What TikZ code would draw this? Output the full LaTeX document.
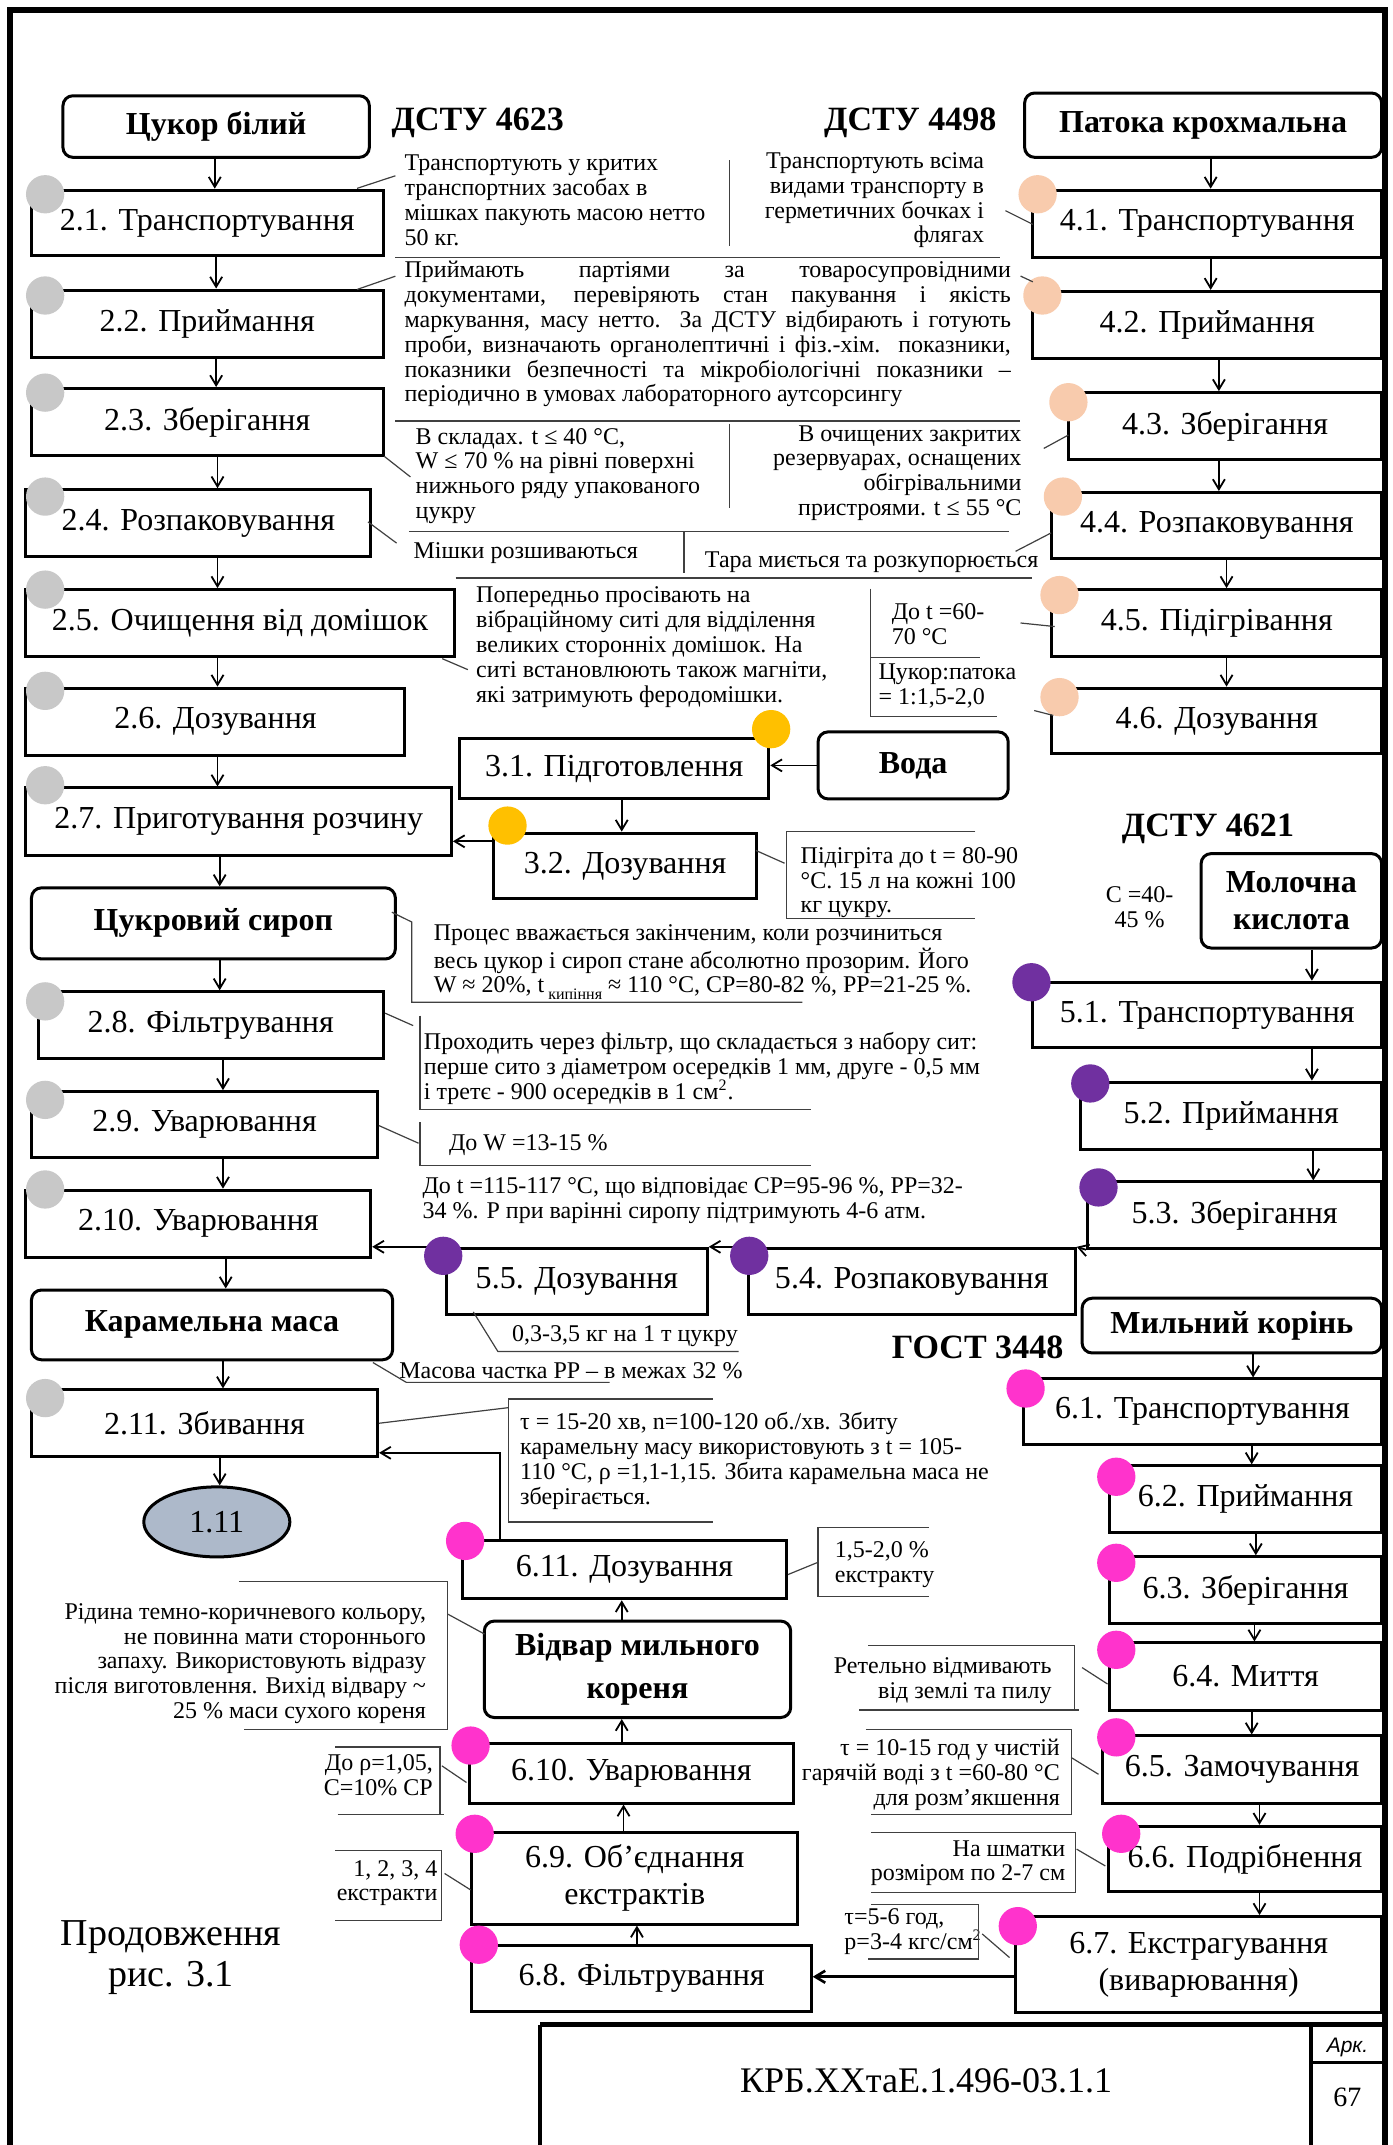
\documentclass[tikz,border=0pt]{standalone}
\usepackage{fontspec}
\setmainfont{Liberation Serif}
\newfontfamily\sansf{Liberation Sans}
\usetikzlibrary{arrows.meta,shapes.geometric}
\definecolor{cgray}{HTML}{C8C8C8}
\definecolor{cpeach}{HTML}{F8CBAD}
\definecolor{cyel}{HTML}{FFC000}
\definecolor{cpurp}{HTML}{7030A0}
\definecolor{cmag}{HTML}{FF33CC}
\definecolor{cell}{HTML}{ADB9CA}
\newcommand{\jl}[1]{\makebox[303pt][s]{#1}}
\newcommand{\dotc}[3]{\fill[#1] (#2,#3) circle[radius=14];}
\newcommand{\bxn}[7]{\node[#1,minimum width={(#5-#3)*0.6837pt},minimum height={(#6-#4)*0.6837pt}] (#2) at ({(#3+#5)/2},{(#4+#6)/2}) {#7};}
\pgfdeclarelayer{bg}
\pgfsetlayers{bg,main}
\begin{document}
\begin{tikzpicture}[x=0.6837pt,y=-0.6837pt,
  box/.style={draw,line width=1.5pt,fill=white,inner sep=0pt,align=center,font=\fontsize{16}{18.4}\selectfont},
  rbox/.style={box,rounded corners=5pt,font=\bfseries\fontsize{16}{18.5}\selectfont},
  arr/.style={-{Straight Barb[length=5pt,width=6pt]},line width=0.9pt},
  garr/.style={-{Straight Barb[length=5pt,width=6pt]},line width=0.7pt,black!75},
  note/.style={inner sep=0pt,font=\fontsize{12}{12.4}\selectfont},
  ln/.style={line width=0.6pt,black!75},
  hdr/.style={inner sep=0pt,font=\bfseries\fontsize{17}{20}\selectfont}]
\useasboundingbox (0,0) rectangle (1018,1568);
\fill[white] (0,0) rectangle (1018,1568);
% frame
\draw[line width=3pt] (7.5,1568) -- (7.5,7.5) -- (1012.5,7.5) -- (1012.5,1568);
% title block
\draw[line width=2.5pt] (395,1480) -- (1012.5,1480);
\draw[line width=2pt] (395,1480) -- (395,1568);
\draw[line width=2pt] (958,1480) -- (958,1568);
\draw[line width=1.5pt] (958,1507.5) -- (1012.5,1507.5);
\node[inner sep=0pt,font=\fontsize{18}{20}\selectfont] (code) at (677,1521) {КРБ.ХХтаЕ.1.496-03.1.1};
\node[inner sep=0pt,font=\sansf\itshape\fontsize{10.5}{12}\selectfont] (ark) at (985,1497) {Арк.};
\node[inner sep=0pt,font=\fontsize{14}{16}\selectfont] (pg) at (985,1533) {67};
\node[inner sep=0pt,align=center,font=\fontsize{19}{20.5}\selectfont] (cont) at (125,1431) {Продовження\\рис. 3.1};

% headers
\node[hdr,anchor=west] (h1) at (286,90) {ДСТУ 4623};
\node[hdr,anchor=east] (h2) at (728.6,90) {ДСТУ 4498};
\node[hdr] (h3) at (883,606) {ДСТУ 4621};
\node[hdr] (h4) at (714.6,985) {ГОСТ 3448};

% left column
\bxn{rbox}{cb}{46}{70}{270}{115}{Цукор білий}
\bxn{box}{b21}{23}{139}{280}{187}{2.1. Транспортування}
\bxn{box}{b22}{23}{212}{280}{261}{2.2. Приймання}
\bxn{box}{b23}{23}{284}{280}{333}{2.3. Зберігання}
\bxn{box}{b24}{19}{358}{271}{407}{2.4. Розпаковування}
\bxn{box}{b25}{19}{431}{332}{480}{2.5. Очищення від домішок}
\bxn{box}{b26}{19}{503}{296}{552}{2.6. Дозування}
\bxn{box}{b27}{19}{576}{330}{625}{2.7. Приготування розчину}
\bxn{rbox}{cs}{23}{649}{289}{701}{Цукровий сироп}
\bxn{box}{b28}{28}{725}{280}{774}{2.8. Фільтрування}
\bxn{box}{b29}{23}{798}{276}{846}{2.9. Уварювання}
\bxn{box}{b210}{19}{870}{271}{919}{2.10. Уварювання}
\bxn{rbox}{km}{23}{943}{287}{994}{Карамельна маса}
\bxn{box}{b211}{23}{1016}{276}{1065}{2.11. Збивання}
\node[ellipse,draw,line width=1.5pt,fill=cell,inner sep=0pt,minimum width=73pt,minimum height=35pt,font=\fontsize{16}{18}\selectfont] (e111) at (158.5,1112.5) {1.11};

% water
\bxn{box}{b31}{336}{540}{562}{584}{3.1. Підготовлення}
\bxn{rbox}{voda}{598}{535}{737}{584}{Вода}
\bxn{box}{b32}{361}{609}{553}{657}{3.2. Дозування}

% patoka
\bxn{rbox}{pk}{749}{68}{1010}{115}{Патока крохмальна}
\bxn{box}{b41}{755}{139}{1010}{188}{4.1. Транспортування}
\bxn{box}{b42}{755}{213}{1010}{262}{4.2. Приймання}
\bxn{box}{b43}{781}{287}{1010}{336}{4.3. Зберігання}
\bxn{box}{b44}{769}{360}{1010}{408}{4.4. Розпаковування}
\bxn{box}{b45}{769}{431}{1010}{480}{4.5. Підігрівання}
\bxn{box}{b46}{769}{503}{1010}{551}{4.6. Дозування}

% lactic acid
\bxn{rbox}{mk}{878}{624}{1010}{693}{Молочна\\кислота}
\bxn{box}{b51}{755}{718}{1010}{766}{5.1. Транспортування}
\bxn{box}{b52}{790}{791}{1010}{840}{5.2. Приймання}
\bxn{box}{b53}{795}{864}{1010}{912.5}{5.3. Зберігання}
\bxn{box}{b54}{547}{912.5}{786}{961}{5.4. Розпаковування}
\bxn{box}{b55}{326.5}{912.5}{517}{961}{5.5. Дозування}

% soap root
\bxn{rbox}{mr}{791}{949}{1010}{989}{Мильний корінь}
\bxn{box}{b61}{748}{1008}{1010}{1056}{6.1. Транспортування}
\bxn{box}{b62}{811}{1071.5}{1010}{1120}{6.2. Приймання}
\bxn{box}{b63}{811}{1138}{1010}{1187}{6.3. Зберігання}
\bxn{box}{b64}{811}{1201}{1010}{1250}{6.4. Миття}
\bxn{box}{b65}{806}{1269}{1010}{1318}{6.5. Замочування}
\bxn{box}{b66}{810}{1335}{1010}{1383}{6.6. Подрібнення}
\bxn{box}{b67}{742.5}{1401}{1010}{1471}{6.7. Екстрагування\\(виварювання)}
\bxn{box}{b68}{345}{1422}{593}{1470.5}{6.8. Фільтрування}
\bxn{box}{b69}{345}{1339.5}{583}{1406.5}{6.9. Об’єднання\\екстрактів}
\bxn{box}{b610}{343}{1274.5}{580}{1318}{6.10. Уварювання}
\bxn{rbox,font=\bfseries\fontsize{16}{21.7}\selectfont}{vm}{354}{1185}{578}{1255.5}{Відвар мильного\\кореня}
\bxn{box}{b611}{338}{1126.3}{575}{1168.7}{6.11. Дозування}

% helper coordinates
\coordinate (x157) at (157,0);
\coordinate (x158) at (158,0);
\coordinate (x159) at (159,0);
\coordinate (x161) at (160.6,0);
\coordinate (x163) at (163,0);
\coordinate (x165) at (165,0);
\coordinate (x454) at (454.5,0);
\coordinate (x456) at (455.8,0);
\coordinate (x466) at (465.6,0);
\coordinate (x366) at (365.6,0);
\coordinate (x783) at (783,0);
\coordinate (x885) at (885,0);
\coordinate (x891) at (891,0);
\coordinate (x897) at (896.6,0);
\coordinate (x959) at (959,0);
\coordinate (x960) at (960,0);
\coordinate (x915) at (915,0);
\coordinate (x916) at (916,0);
\coordinate (x917) at (917,0);
\coordinate (x918) at (918,0);
\coordinate (x921) at (920.7,0);
\coordinate (y560) at (0,559.5);
\coordinate (y615) at (0,615);
\coordinate (y897) at (0,896.7);
\coordinate (y1062) at (0,1062);
\coordinate (y1445) at (0,1445);

% arrows left column
\draw[arr] (cb.south -| x157) -- (b21.north -| x157);
\draw[arr] (b21.south -| x158) -- (b22.north -| x158);
\draw[arr] (b22.south -| x158) -- (b23.north -| x158);
\draw[arr] (b23.south -| x159) -- (b24.north -| x159);
\draw[arr] (b24.south -| x159) -- (b25.north -| x159);
\draw[arr] (b25.south -| x159) -- (b26.north -| x159);
\draw[arr] (b26.south -| x159) -- (b27.north -| x159);
\draw[arr] (b27.south -| x161) -- (cs.north -| x161);
\draw[arr] (cs.south -| x161) -- (b28.north -| x161);
\draw[arr] (b28.south -| x163) -- (b29.north -| x163);
\draw[arr] (b29.south -| x163) -- (b210.north -| x163);
\draw[arr] (b210.south -| x165) -- (km.north -| x165);
\draw[arr] (km.south -| x163) -- (b211.north -| x163);
\draw[arr] (b211.south -| x161) -- (e111.north -| x161);
% water
\draw[arr] (voda.west |- y560) -- (b31.east |- y560);
\draw[arr] (b31.south -| x454) -- (b32.north -| x454);
\draw[arr] (b32.west |- y615) -- (b27.east |- y615);
% patoka
\draw[arr] (pk.south -| x885) -- (b41.north -| x885);
\draw[arr] (b41.south -| x885) -- (b42.north -| x885);
\draw[arr] (b42.south -| x891) -- (b43.north -| x891);
\draw[arr] (b43.south -| x891) -- (b44.north -| x891);
\draw[arr] (b44.south -| x897) -- (b45.north -| x897);
\draw[arr] (b45.south -| x897) -- (b46.north -| x897);
\begin{pgfonlayer}{bg}
\draw[garr] (b46.south -| x783) |- (b210.east |- y897);
\end{pgfonlayer}
% lactic
\draw[arr] (mk.south -| x959) -- (b51.north -| x959);
\draw[arr] (b51.south -| x959) -- (b52.north -| x959);
\draw[arr] (b52.south -| x960) -- (b53.north -| x960);
\draw[arr] (b53.south west) -- (b54.north east);
\draw[arr] (b54.north west) -- (b55.north east);
\draw[arr] (b55.north west) -- (b55.north west -| b210.east);
% soap root
\draw[arr] (mr.south -| x916) -- (b61.north -| x916);
\draw[arr] (b61.south -| x915) -- (b62.north -| x915);
\draw[arr] (b62.south -| x918) -- (b63.north -| x918);
\draw[arr] (b63.south -| x917) -- (b64.north -| x917);
\draw[arr] (b64.south -| x915) -- (b65.north -| x915);
\draw[arr] (b65.south -| x921) -- (b66.north -| x921);
\draw[arr] (b66.south -| x921) -- (b67.north -| x921);
\draw[arr,line width=1.3pt] (b67.west |- y1445) -- (b68.east |- y1445);
\draw[arr] (b68.north -| x466) -- (b69.south -| x466);
\draw[arr] (b69.north -| x456) -- (b610.south -| x456);
\draw[arr] (b610.north -| x454) -- (vm.south -| x454);
\draw[arr] (vm.north -| x454) -- (b611.south -| x454);
\draw[arr] (b611.north -| x366) |- (b211.east |- y1062);

% colored dots
\foreach \yy in {142,216,287,363,431,505,574,732,804,869.5,1022} {\dotc{cgray}{33}{\yy}}
\dotc{cpeach}{758.5}{142}
\dotc{cpeach}{762}{216}
\dotc{cpeach}{781}{294}
\dotc{cpeach}{777}{363}
\dotc{cpeach}{774.5}{435}
\dotc{cpeach}{774.5}{509.6}
\dotc{cyel}{563.7}{533}
\dotc{cyel}{371}{603.5}
\dotc{cpurp}{754}{718}
\dotc{cpurp}{797}{792}
\dotc{cpurp}{803}{868}
\dotc{cpurp}{547.7}{918}
\dotc{cpurp}{324}{918}
\dotc{cmag}{749.7}{1015}
\dotc{cmag}{816}{1079.5}
\dotc{cmag}{816}{1142.4}
\dotc{cmag}{816}{1206}
\dotc{cmag}{816}{1270}
\dotc{cmag}{819.6}{1340.5}
\dotc{cmag}{744}{1408}
\dotc{cmag}{350}{1421.6}
\dotc{cmag}{347}{1340.5}
\dotc{cmag}{344}{1276}
\dotc{cmag}{340}{1126.4}

% notes
\node[note,anchor=west,align=left] (n21) at (295.5,146.4) {Транспортують у критих\\транспортних засобах в\\мішках пакують масою нетто\\50 кг.};
\node[note,anchor=east,align=right] (n41) at (719.6,146.4) {Транспортують всіма\\видами транспорту в\\герметичних бочках і\\флягах};
\node[note,anchor=west,align=left] (n22) at (295.5,244.4) {\jl{Приймають партіями за товаросупровідними}\\\jl{документами, перевіряють стан пакування і якість}\\\jl{маркування, масу нетто. За ДСТУ відбирають і готують}\\\jl{проби, визначають органолептичні і фіз.-хім. показники,}\\\jl{показники безпечності та мікробіологічні показники –}\\періодично в умовах лабораторного аутсорсингу};
\node[note,anchor=west,align=left] (n23) at (303.6,347.9) {В складах. t ≤ 40 °C,\\W ≤ 70 \% на рівні поверхні\\нижнього ряду упакованого\\цукру};
\node[note,anchor=east,align=right] (n43) at (747,345.75) {В очищених закритих\\резервуарах, оснащених\\обігрівальними\\пристроями. t ≤ 55 °C};
\node[note,anchor=west] (n24) at (302,404) {Мішки розшиваються};
\node[note,anchor=west] (n44) at (515,410.7) {Тара миється та розкупорюється};
\node[note,anchor=west,align=left] (n25) at (347.8,473) {Попередньо просівають на\\вібраційному ситі для відділення\\великих сторонніх домішок. На\\ситі встановлюють також магніти,\\які затримують феродомішки.};
\node[note,anchor=west,align=left] (n45) at (651.6,456.5) {До t =60-\\70 °C};
\node[note,anchor=west,align=left] (n46) at (642,501.7) {Цукор:патока\\= 1:1,5-2,0};
\node[note,anchor=west,align=left] (n32) at (585,645.2) {Підігріта до t = 80-90\\°C. 15 л на кожні 100\\кг цукру.};
\node[note,anchor=west,align=left] (ncs) at (316.8,703.3) {Процес вважається закінченим, коли розчиниться\\весь цукор і сироп стане абсолютно прозорим. Його\\W ≈ 20\%, t\,\raisebox{-0.6ex}{\fontsize{8}{8}\selectfont кипіння} ≈ 110 °C, СР=80-82 \%, РР=21-25 \%.};
\node[note,anchor=west,align=left] (n28) at (309.6,781) {Проходить через фільтр, що складається з набору сит:\\перше сито з діаметром осередків 1 мм, друге - 0,5 мм\\і третє - 900 осередків в 1 см\textsuperscript{2}.};
\node[note,anchor=west] (n29) at (328,837.4) {До W =13-15 \%};
\node[note,anchor=west,align=left] (n210) at (308.6,877.8) {До t =115-117 °C, що відповідає СР=95-96 \%, РР=32-\\34 \%. Р при варінні сиропу підтримують 4-6 атм.};
\node[note,anchor=west] (n55) at (374,976.5) {0,3-3,5 кг на 1 т цукру};
\node[note,anchor=west] (nkm) at (291.6,1002) {Масова частка РР – в межах 32 \%};
\node[note,anchor=west,align=left] (n211) at (380,1068) {τ = 15-20 хв, n=100-120 об./хв. Збиту\\карамельну масу використовують з t = 105-\\110 °C, ρ =1,1-1,15. Збита карамельна маса не\\зберігається.};
\node[note,anchor=west,align=left] (n611) at (610,1143.5) {1,5-2,0 \%\\екстракту};
\node[note,anchor=east,align=right] (nvm) at (311.7,1216) {Рідина темно-коричневого кольору,\\не повинна мати стороннього\\запаху. Використовують відразу\\після виготовлення. Вихід відвару \textasciitilde\\25 \% маси сухого кореня};
\node[note,anchor=east,align=right] (n610) at (316.7,1297.8) {До ρ=1,05,\\С=10\% СР};
\node[note,anchor=east,align=right] (n69) at (320,1376.5) {1, 2, 3, 4\\екстракти};
\node[note,anchor=west,align=left] (n67) at (617,1412) {τ=5-6 год,\\р=3-4 кгс/см\textsuperscript{2}};
\node[note,anchor=east,align=right] (n66) at (779,1362) {На шматки\\розміром по 2-7 см};
\node[note,anchor=east,align=right] (n65) at (775,1297.4) {τ = 10-15 год у чистій\\гарячій воді з t =60-80 °C\\для розм'якшення};
\node[note,anchor=east,align=right] (n64) at (769,1228.5) {Ретельно відмивають\\від землі та пилу};
\node[note,align=center] (nmk) at (833,663) {С =40-\\45 \%};

% note lines
\draw[ln] (261,137.7) -- (289,128.5);
\draw[ln] (289,188) -- (731,188);
\draw[ln] (533,117) -- (533,180);
\draw[ln] (735,154) -- (755,164);
\draw[ln] (261,211.6) -- (289,201.9);
\draw[ln] (746,201.8) -- (755,206);
\draw[ln] (289,307.7) -- (745.6,307.7);
\draw[ln] (533,309.6) -- (533,371.7);
\draw[ln] (280.8,333.5) -- (300,348.6);
\draw[ln] (763,327.8) -- (781,318);
\draw[ln] (298.8,388.8) -- (737.6,388.8);
\draw[ln] (500,388.8) -- (500,419);
\draw[ln] (269,381.5) -- (289.9,397);
\draw[ln] (742.4,403) -- (768.3,389.6);
\draw[ln] (333,422.5) -- (754.7,422.5);
\draw[ln] (323.3,481.5) -- (342,489.5);
\draw[ln] (636.3,430.3) -- (636.3,523.5) -- (729,523.5);
\draw[ln] (636.3,480.8) -- (716.5,480.8);
\draw[ln] (746,455.4) -- (771,458);
\draw[ln] (756,519.4) -- (770,523);
\draw[ln] (713,608) -- (575,608) -- (575,671.5) -- (713,671.5);
\draw[ln] (552.6,621.7) -- (573.5,631);
\draw[ln] (286.4,666.8) -- (301,674) -- (301,732.6) -- (586.6,732.6);
\draw[ln] (281.5,740.6) -- (302,749.7);
\draw[ln] (307,742.4) -- (307,811.3) -- (592.5,811.3);
\draw[ln] (277,822.8) -- (306,835.7);
\draw[ln] (307,820.4) -- (307,852) -- (592.5,852);
\draw[ln] (346,959) -- (364,988) -- (540,988);
\draw[ln] (272.6,996) -- (297,1010.5) -- (445.6,1010.5);
\draw[ln] (521,1022.6) -- (371.5,1022.6) -- (371.5,1112.5) -- (521,1112.5);
\draw[ln] (277,1040.4) -- (371.5,1029);
\draw[ln] (679,1116.6) -- (598,1116.6) -- (598,1167.3) -- (679,1167.3);
\draw[ln] (576,1151) -- (598,1142);
\draw[ln] (174.7,1156) -- (327,1156) -- (327,1264) -- (178,1264);
\draw[ln] (327.5,1180) -- (354.2,1194.5);
\draw[ln] (245,1277) -- (321.6,1277) -- (321.6,1326.6);
\draw[ln] (246.8,1326.6) -- (324.6,1326.6);
\draw[ln] (323,1290.8) -- (341,1303);
\draw[ln] (245,1352.5) -- (323,1352.5) -- (323,1404) -- (245,1404);
\draw[ln] (325,1369.5) -- (344,1381.5);
\draw[ln] (636.6,1392) -- (715,1392) -- (715,1432) -- (634.8,1432);
\draw[ln] (718,1413.7) -- (738,1431);
\draw[ln] (636.6,1339.5) -- (786,1339.5) -- (786,1383.4) -- (636.6,1383.4);
\draw[ln] (787,1351.7) -- (808,1364);
\draw[ln] (633,1264) -- (783,1264) -- (783,1326.6) -- (636.6,1326.6);
\draw[ln] (783,1284.7) -- (803,1297);
\draw[ln] (634.6,1203) -- (785.6,1203) -- (785.6,1250);
\draw[ln] (628,1250) -- (788.7,1250);
\draw[ln] (791,1219) -- (809.6,1231);
\end{tikzpicture}
\end{document}
